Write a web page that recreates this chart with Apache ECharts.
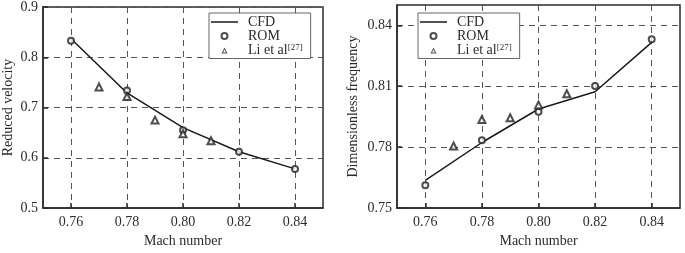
<!DOCTYPE html>
<html>
<head>
<meta charset="utf-8">
<script src="https://cdn.jsdelivr.net/npm/echarts@6/dist/echarts.min.js"></script>
<style>
  html, body { margin: 0; padding: 0; background: #fff; }
  #chart { width: 685px; height: 253px; }
</style>
</head>
<body>
<div id="chart"></div>
<script>
// Mach numbers
const machCfd = [0.76, 0.78, 0.80, 0.82, 0.84];
const machRom = [0.76, 0.78, 0.80, 0.82, 0.84];
const machLi = [0.77, 0.78, 0.79, 0.80, 0.81];

// left panel: reduced velocity
const velocityCfd = [0.837, 0.729, 0.660, 0.612, 0.578];
const velocityRom = [0.833, 0.734, 0.655, 0.612, 0.578];
const velocityLi = [0.741, 0.722, 0.675, 0.648, 0.634];

// right panel: dimensionless frequency
const freqCfd = [0.7636, 0.7823, 0.7988, 0.8073, 0.8316];
const freqRom = [0.7613, 0.7834, 0.7975, 0.8101, 0.8331];
const freqLi = [0.7806, 0.7936, 0.7945, 0.8008, 0.8063];

// tick labels
const machTicks = [0.76, 0.78, 0.80, 0.82, 0.84];
const freqTicks = [0.75, 0.78, 0.81, 0.84];

const font = 'Liberation Serif, Times New Roman, serif';
const ink = '#2b2b2b';
const gridDash = { color: '#555', width: 1, type: [6, 5] };

const zip = (xs, ys) => xs.map((x, i) => [x, ys[i]]);

const chart = echarts.init(document.getElementById('chart'));

function xAxisFor(gridIndex) {
  return {
    type: 'value',
    gridIndex: gridIndex,
    min: 0.75,
    max: 0.85,
    name: 'Mach number',
    nameLocation: 'middle',
    nameGap: 21,
    nameTextStyle: { fontFamily: font, fontSize: 14, color: ink },
    axisLine: { show: true, lineStyle: { color: ink, width: 1.5 } },
    axisTick: { show: true, inside: true, length: 5, customValues: machTicks, lineStyle: { color: ink, width: 1.5 } },
    axisLabel: { customValues: machTicks, margin: 7, fontFamily: font, fontSize: 14, color: ink,
      formatter: (v) => v.toFixed(2) },
    splitLine: { show: true, lineStyle: gridDash }
  };
}

const legendText = {
  fontFamily: font, fontSize: 14, color: ink, padding: [0, 0, 0, 5],
  rich: {
    m: { fontFamily: font, fontSize: 14, color: ink, lineHeight: 15 },
    sup: { fontFamily: font, fontSize: 9, color: ink, lineHeight: 9, verticalAlign: 'top' }
  }
};
const legendFormatter = (name) => name === 'Li et al' ? '{m|Li et al}{sup|[27]}' : '{m|' + name + '}';

// legend icons as paths so symbolKeepAspect keeps their proportions
const lineIcon = 'path://M0,0 L27,0 L27,1.5 L0,1.5 Z';
const hollowTriangle = 'path://M3,0 L6,6 L0,6 Z M3,2 L1.6,5 L4.4,5 Z';

function legendFor(left) {
  return {
    show: true,
    orient: 'vertical',
    left: left,
    top: 13,
    padding: [2, 8, 1, 2],
    itemGap: 0,
    itemWidth: 27,
    itemHeight: 6,
    symbolKeepAspect: true,
    backgroundColor: '#fff',
    borderColor: '#666',
    borderWidth: 1,
    selectedMode: false,
    textStyle: legendText,
    formatter: legendFormatter,
    data: [
      { name: 'CFD', icon: lineIcon, itemStyle: { color: '#1a1a1a', borderWidth: 0 } },
      { name: 'ROM', icon: 'emptyCircle', itemStyle: { color: '#222', borderColor: '#222', borderWidth: 1.2 } },
      { name: 'Li et al', icon: hollowTriangle, itemStyle: { color: '#222', borderWidth: 0 } }
    ],
    z: 10
  };
}

function seriesFor(gridIndex, cfd, rom, li) {
  return [
    {
      name: 'CFD', type: 'line', xAxisIndex: gridIndex, yAxisIndex: gridIndex,
      data: zip(machCfd, cfd), symbol: 'none',
      lineStyle: { color: '#1a1a1a', width: 1.5 }, itemStyle: { color: '#1a1a1a' }, z: 3
    },
    {
      name: 'ROM', type: 'scatter', xAxisIndex: gridIndex, yAxisIndex: gridIndex,
      data: zip(machRom, rom), symbol: 'emptyCircle', symbolSize: 6,
      itemStyle: { color: '#222', borderColor: '#222', borderWidth: 1 }, z: 4
    },
    {
      name: 'Li et al', type: 'scatter', xAxisIndex: gridIndex, yAxisIndex: gridIndex,
      data: zip(machLi, li), symbol: 'emptyTriangle', symbolSize: 7,
      itemStyle: { color: '#222', borderColor: '#222', borderWidth: 1 }, z: 4
    }
  ];
}

const option = {
  backgroundColor: '#fff',
  animation: false,
  grid: [
    { left: 42, right: 362, top: 5, bottom: 34, show: true, borderColor: ink, borderWidth: 1.5 },
    { left: 397, right: 5, top: 5, bottom: 34, show: true, borderColor: ink, borderWidth: 1.5 }
  ],
  legend: [legendFor(209), legendFor(418)],
  xAxis: [xAxisFor(0), xAxisFor(1)],
  yAxis: [
    {
      type: 'value', gridIndex: 0, min: 0.5, max: 0.9, interval: 0.1,
      name: 'Reduced velocity', nameLocation: 'middle', nameGap: 28,
      nameTextStyle: { fontFamily: font, fontSize: 14, color: ink },
      axisLine: { show: true, lineStyle: { color: ink, width: 1.5 } },
      axisTick: { show: true, inside: true, length: 5, lineStyle: { color: ink, width: 1.5 } },
      axisLabel: { margin: 5, fontFamily: font, fontSize: 14, color: ink, formatter: (v) => v.toFixed(1) },
      splitLine: { show: true, lineStyle: gridDash }
    },
    {
      type: 'value', gridIndex: 1, min: 0.75, max: 0.85,
      name: 'Dimensionless frequency', nameLocation: 'middle', nameGap: 37,
      nameTextStyle: { fontFamily: font, fontSize: 14, color: ink },
      axisLine: { show: true, lineStyle: { color: ink, width: 1.5 } },
      axisTick: { show: true, inside: true, length: 5, customValues: freqTicks, lineStyle: { color: ink, width: 1.5 } },
      axisLabel: { customValues: freqTicks, margin: 5, fontFamily: font, fontSize: 14, color: ink, formatter: (v) => v.toFixed(2) },
      splitLine: { show: true, lineStyle: gridDash }
    }
  ],
  series: [].concat(
    seriesFor(0, velocityCfd, velocityRom, velocityLi),
    seriesFor(1, freqCfd, freqRom, freqLi)
  )
};

chart.setOption(option);
</script>
</body>
</html>
